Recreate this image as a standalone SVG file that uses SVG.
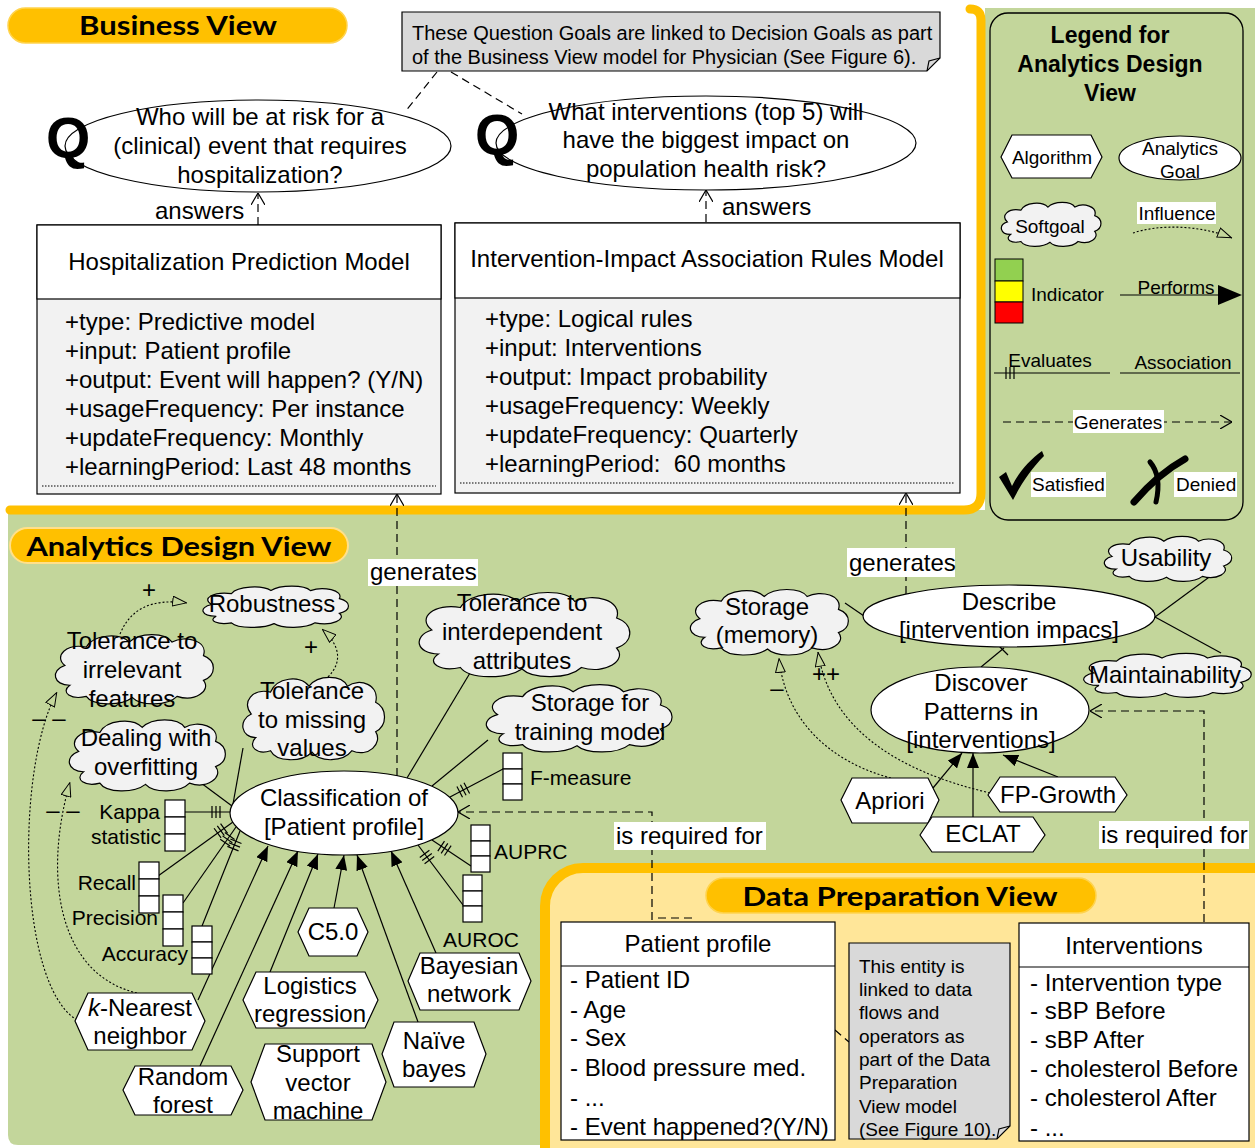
<svg xmlns="http://www.w3.org/2000/svg" width="1255" height="1148" viewBox="0 0 1255 1148">
<style>
text{font-family:"Liberation Sans",Arial,sans-serif;fill:#000}
.t24{font-size:24px}
.t21{font-size:21px}
.t19{font-size:19px}
.t20{font-size:20px}
.c{text-anchor:middle}
.e{text-anchor:end}
.ttl{font-family:Lato,"Open Sans",sans-serif;font-weight:bold;font-size:27px;text-anchor:middle}
.ln{stroke:#000;stroke-width:1.2;fill:none}
.dash{stroke:#000;stroke-width:1.2;fill:none;stroke-dasharray:8 5}
.dot{stroke:#000;stroke-width:1.1;fill:none;stroke-dasharray:2 2}
.hex{fill:#fff;stroke:#000;stroke-width:1.2}
.ell{fill:#fff;stroke:#000;stroke-width:1.2}
.ind{fill:#fff;stroke:#000;stroke-width:1.2}
.lbl{fill:#fff}
</style>
<defs>
<symbol id="cloud" viewBox="0 0 100 60" preserveAspectRatio="none">
<path vector-effect="non-scaling-stroke" d="M12,44 C2,44 0,32 9,28 C2,20 10,10 22,13 C26,3 42,1 48,9 C54,1 70,1 74,9 C82,3 96,8 93,20 C101,24 101,36 93,40 C98,48 88,58 77,53 C71,61 55,61 50,54 C43,61 26,61 22,53 C13,56 6,50 12,44 Z" fill="#f2f2f2" stroke="#000" stroke-width="1.2"/>
</symbol>
<marker id="open" viewBox="0 0 12 14" refX="12" refY="7" markerWidth="12" markerHeight="14" markerUnits="userSpaceOnUse" orient="auto"><path d="M0,0 L12,7 L0,14" fill="none" stroke="#000" stroke-width="1.2"/></marker>
<marker id="solid" viewBox="0 0 15 12" refX="15" refY="6" markerWidth="15" markerHeight="12" markerUnits="userSpaceOnUse" orient="auto"><path d="M0,0 L15,6 L0,12 Z" fill="#000"/></marker>
<marker id="tri" viewBox="0 0 15 11" refX="15" refY="5.5" markerWidth="15" markerHeight="11" markerUnits="userSpaceOnUse" orient="auto"><path d="M0.6,0.6 L14.4,5.5 L0.6,10.4 Z" fill="#c3d69b" stroke="#000" stroke-width="1"/></marker>
<marker id="ticks" viewBox="0 0 24 14" refX="0" refY="7" markerWidth="24" markerHeight="14" markerUnits="userSpaceOnUse" orient="auto"><path d="M11,1 V13 M15,1 V13 M19,1 V13" stroke="#000" stroke-width="1.2"/></marker>
</defs>

<rect x="0" y="0" width="1255" height="1148" fill="#fff"/>
<!-- panels -->
<g id="panels">
<path d="M985,8 H1255 V1145 H18 Q8,1145 8,1135 V510 H985 Z" fill="#c3d69b"/>
<path d="M10,510 H964 Q981,510 981,493 V20 Q981,9 970,9" fill="none" stroke="#ffc000" stroke-width="9" stroke-linecap="round"/>
<rect x="545" y="868" width="760" height="330" rx="38" fill="#ffe699" stroke="#ffc000" stroke-width="10"/>
<rect x="8" y="8" width="339" height="35" rx="17.5" fill="#ffc000" stroke="#ffd34d" stroke-width="1.5"/>
<text class="ttl" x="178" y="35" textLength="198" lengthAdjust="spacingAndGlyphs">Business View</text>
<rect x="10" y="528" width="338" height="35" rx="17.5" fill="#ffc000" stroke="#ffe08a" stroke-width="2"/>
<text class="ttl" x="179" y="556" textLength="305" lengthAdjust="spacingAndGlyphs">Analytics Design View</text>
<rect x="706" y="878" width="390" height="35" rx="17.5" fill="#ffc000" stroke="#ffd34d" stroke-width="1.5"/>
<text class="ttl" x="900" y="906" textLength="315" lengthAdjust="spacingAndGlyphs">Data Preparation View</text>
</g>

<!-- connectors -->
<g id="connectors">
<path class="dash" d="M437,72 L405,112"/>
<path class="dash" d="M451,72 L522,114"/>
<path class="dash" d="M258,225 V193" marker-end="url(#open)"/>
<path class="dash" d="M706,222 V190" marker-end="url(#open)"/>
<path class="dash" d="M397,776 V494" marker-end="url(#open)"/>
<path class="dash" d="M906,594 V493" marker-end="url(#open)"/>
<path class="dash" d="M652,920 V812 H458" marker-end="url(#open)"/>
<path class="dash" d="M1204,922 V711 H1090" marker-end="url(#open)"/>
<path class="dash" d="M835,1030 L849,1042"/>
<path class="dash" d="M658,918 H697" stroke-dasharray="6 4"/>
<!-- influence -->
<path class="dot" d="M120,634 C130,610 150,598 187,603" marker-end="url(#tri)"/>
<path class="dot" d="M328,677 C343,662 340,645 322,629" marker-end="url(#tri)"/>
<path class="dot" d="M137,993 C60,975 42,880 70,782" marker-end="url(#tri)"/>
<path class="dot" d="M77,1020 C18,985 15,770 57,692" marker-end="url(#tri)"/>
<path class="dot" d="M891,778 C830,762 785,720 779,658" marker-end="url(#tri)"/>
<path class="dot" d="M990,793 C900,772 830,730 818,652" marker-end="url(#tri)"/>
<!-- associations -->
<path class="ln" d="M197,780 L232,806"/>
<path class="ln" d="M243,748 L233,804"/>
<path class="ln" d="M470,673 L407,778"/>
<path class="ln" d="M488,740 L432,786"/>
<path class="ln" d="M845,603 L864,616"/>
<path class="ln" d="M1212,575 L1155,617"/>
<path class="ln" d="M1155,617 L1221,653"/>
<path class="ln" d="M981,667 L1004,648"/>
<path class="ln" d="M998,645 L1008,655"/>
<!-- evaluates -->
<path class="ln" d="M231,812 L185,812" marker-start="url(#ticks)"/>
<path class="ln" d="M233,822 L158,876" marker-start="url(#ticks)"/>
<path class="ln" d="M236,827 L183,903" marker-start="url(#ticks)"/>
<path class="ln" d="M240,831 L202,926" marker-start="url(#ticks)"/>
<path class="ln" d="M450,797 L503,769" marker-start="url(#ticks)"/>
<path class="ln" d="M432,840 L471,866" marker-start="url(#ticks)"/>
<path class="ln" d="M418,845 L463,905" marker-start="url(#ticks)"/>
<!-- performs -->
<path class="ln" d="M198,1000 L268,846" marker-end="url(#solid)"/>
<path class="ln" d="M200,1066 L298,851" marker-end="url(#solid)"/>
<path class="ln" d="M270,972 L318,854" marker-end="url(#solid)"/>
<path class="ln" d="M334,908 L344,855" marker-end="url(#solid)"/>
<path class="ln" d="M418,1022 L357,855" marker-end="url(#solid)"/>
<path class="ln" d="M436,953 L391,851" marker-end="url(#solid)"/>
<path class="ln" d="M933,788 L962,753" marker-end="url(#solid)"/>
<path class="ln" d="M973,817 V753" marker-end="url(#solid)"/>
<path class="ln" d="M1058,777 L1003,755" marker-end="url(#solid)"/>
</g>

<!-- connector labels -->
<g id="labels">
<text class="t24" x="155" y="219">answers</text>
<text class="t24" x="722" y="215">answers</text>
<rect class="lbl" x="368" y="559" width="110" height="27"/>
<text class="t24" x="370" y="580">generates</text>
<rect class="lbl" x="847" y="548" width="108" height="29"/>
<text class="t24" x="849" y="571">generates</text>
<rect class="lbl" x="614" y="822" width="152" height="28"/>
<text class="t24" x="616" y="844">is required for</text>
<rect class="lbl" x="1099" y="821" width="150" height="28"/>
<text class="t24" x="1101" y="843">is required for</text>
<text class="t24 c" x="149" y="598">+</text>
<text class="t24 c" x="311" y="655">+</text>
<text class="t24 c" x="49" y="726">– –</text>
<text class="t24 c" x="63" y="818">– –</text>
<text class="t24 c" x="777" y="696">–</text>
<text class="t24 c" x="826" y="682">++</text>
</g>

<!-- Business view -->
<g id="note-bv">
<path d="M402,12 H940 V58 L927,71 H402 Z" fill="#d9d9d9" stroke="#000" stroke-width="1.2"/>
<path d="M940,58 L929,61 L927,71" fill="none" stroke="#000" stroke-width="1.2"/>
<text class="t20" x="412" y="40">These Question Goals are linked to Decision Goals as part</text>
<text class="t20" x="412" y="64">of the Business View model for Physician (See Figure 6).</text>
</g>
<g id="q1">
<ellipse class="ell" cx="258" cy="146" rx="193" ry="46"/>
<text x="46" y="158" font-family="'Liberation Serif',serif" font-weight="bold" font-size="57">Q</text>
<text class="t24 c" x="260" y="125">Who will be at risk for a</text>
<text class="t24 c" x="260" y="154">(clinical) event that requires</text>
<text class="t24 c" x="260" y="183">hospitalization?</text>
</g>
<g id="q2">
<ellipse class="ell" cx="706" cy="143" rx="210" ry="47"/>
<text x="475" y="155" font-family="'Liberation Serif',serif" font-weight="bold" font-size="57">Q</text>
<text class="t24 c" x="706" y="120">What interventions (top 5) will</text>
<text class="t24 c" x="706" y="148">have the biggest impact on</text>
<text class="t24 c" x="706" y="177">population health risk?</text>
</g>
<g id="model-hosp">
<rect x="37" y="225" width="404" height="269" fill="#f2f2f2" stroke="#000" stroke-width="1.2"/>
<rect x="37" y="225" width="404" height="74" fill="#fff" stroke="#000" stroke-width="1.2"/>
<text class="t24 c" x="239" y="270">Hospitalization Prediction Model</text>
<text class="t24" x="65" y="330">+type: Predictive model</text>
<text class="t24" x="65" y="359">+input: Patient profile</text>
<text class="t24" x="65" y="388">+output: Event will happen? (Y/N)</text>
<text class="t24" x="65" y="417">+usageFrequency: Per instance</text>
<text class="t24" x="65" y="446">+updateFrequency: Monthly</text>
<text class="t24" x="65" y="475">+learningPeriod: Last 48 months</text>
<path d="M42,486 H436" stroke="#000" stroke-width="1" stroke-dasharray="1.5 1.5"/>
</g>
<g id="model-int">
<rect x="455" y="223" width="505" height="270" fill="#f2f2f2" stroke="#000" stroke-width="1.2"/>
<rect x="455" y="223" width="505" height="75" fill="#fff" stroke="#000" stroke-width="1.2"/>
<text class="t24 c" x="707" y="267">Intervention-Impact Association Rules Model</text>
<text class="t24" x="485" y="327">+type: Logical rules</text>
<text class="t24" x="485" y="356">+input: Interventions</text>
<text class="t24" x="485" y="385">+output: Impact probability</text>
<text class="t24" x="485" y="414">+usageFrequency: Weekly</text>
<text class="t24" x="485" y="443">+updateFrequency: Quarterly</text>
<text class="t24" x="485" y="472">+learningPeriod:&#160; 60 months</text>
<path d="M460,483 H955" stroke="#000" stroke-width="1" stroke-dasharray="1.5 1.5"/>
</g>

<!-- Legend -->
<g id="legend">
<rect x="990" y="13" width="253" height="507" rx="18" fill="#c3d69b" stroke="#000" stroke-width="1.3"/>
<text class="c" x="1110" y="43" font-size="23" font-weight="bold">Legend for</text>
<text class="c" x="1110" y="72" font-size="23" font-weight="bold">Analytics Design</text>
<text class="c" x="1110" y="101" font-size="23" font-weight="bold">View</text>
<polygon class="hex" points="1001,157 1012,135 1091,135 1102,157 1091,178 1012,178"/>
<text class="t19 c" x="1052" y="164">Algorithm</text>
<ellipse class="ell" cx="1180" cy="158" rx="61" ry="22"/>
<text class="t19 c" x="1180" y="155">Analytics</text>
<text class="t19 c" x="1180" y="178">Goal</text>
<use href="#cloud" x="998" y="200" width="104" height="47"/>
<text class="t19 c" x="1050" y="233">Softgoal</text>
<rect class="lbl" x="1137" y="202" width="79" height="22"/>
<text class="t19 c" x="1177" y="220">Influence</text>
<path class="dot" d="M1133,233 C1160,224 1200,225 1232,238" marker-end="url(#tri)"/>
<rect x="995" y="259" width="28" height="22" fill="#92d050" stroke="#000" stroke-width="1"/>
<rect x="995" y="281" width="28" height="21" fill="#ffff00" stroke="#000" stroke-width="1"/>
<rect x="995" y="302" width="28" height="21" fill="#ff0000" stroke="#000" stroke-width="1"/>
<text class="t19" x="1031" y="301">Indicator</text>
<text class="t19 c" x="1176" y="294">Performs</text>
<path class="ln" d="M1120,295 H1220"/>
<polygon points="1218,285 1242,295 1218,305" fill="#000"/>
<text class="t19 c" x="1050" y="367">Evaluates</text>
<path class="ln" d="M994,373 H1110 M1006,367 V379 M1010,367 V379 M1014,367 V379"/>
<text class="t19 c" x="1183" y="369">Association</text>
<path class="ln" d="M1120,373 H1240"/>
<path class="dash" d="M1003,422 H1232" marker-end="url(#open)"/>
<rect class="lbl" x="1073" y="410" width="91" height="23"/>
<text class="t19 c" x="1118" y="429">Generates</text>
<path d="M999,477 L1006,472 L1012,486 C1020,470 1030,460 1042,451 L1044,456 C1032,468 1021,484 1013,500 Z" fill="#000"/>
<rect class="lbl" x="1031" y="472" width="75" height="25"/>
<text class="t19" x="1032" y="491">Satisfied</text>
<path d="M1134,502 Q1158,474 1185,459" fill="none" stroke="#000" stroke-width="7" stroke-linecap="round"/>
<path d="M1150,462 Q1162,476 1156,502" fill="none" stroke="#000" stroke-width="5" stroke-linecap="round"/>
<rect class="lbl" x="1174" y="472" width="63" height="25"/>
<text class="t19" x="1176" y="491">Denied</text>
</g>

<!-- Analytics design: softgoals -->
<g id="sg-robust"><use href="#cloud" x="198" y="584" width="152" height="44"/><text class="t24 c" x="272" y="612">Robustness</text></g>
<g id="sg-irrel"><use href="#cloud" x="50" y="631" width="165" height="74"/>
<text class="t24 c" x="132" y="649">Tolerance to</text><text class="t24 c" x="132" y="678">irrelevant</text><text class="t24 c" x="132" y="707">features</text></g>
<g id="sg-overfit"><use href="#cloud" x="64" y="716" width="163" height="76"/>
<text class="t24 c" x="146" y="746">Dealing with</text><text class="t24 c" x="146" y="775">overfitting</text></g>
<g id="sg-missing"><use href="#cloud" x="238" y="673" width="148" height="88"/>
<text class="t24 c" x="312" y="699">Tolerance</text><text class="t24 c" x="312" y="728">to missing</text><text class="t24 c" x="312" y="756">values</text></g>
<g id="sg-interdep"><use href="#cloud" x="412" y="588" width="220" height="90"/>
<text class="t24 c" x="522" y="611">Tolerance to</text><text class="t24 c" x="522" y="640">interdependent</text><text class="t24 c" x="522" y="669">attributes</text></g>
<g id="sg-storage-train"><use href="#cloud" x="480" y="681" width="194" height="72"/>
<text class="t24 c" x="590" y="711">Storage for</text><text class="t24 c" x="590" y="740">training model</text></g>

<!-- indicators -->
<g id="ind-kappa"><rect class="ind" x="165" y="800" width="20" height="17"/><rect class="ind" x="165" y="817" width="20" height="17"/><rect class="ind" x="165" y="834" width="20" height="17"/>
<text class="t21 e" x="160" y="819">Kappa</text><text class="t21 e" x="161" y="844">statistic</text></g>
<g id="ind-recall"><rect class="ind" x="139" y="862" width="20" height="17"/><rect class="ind" x="139" y="879" width="20" height="17"/><rect class="ind" x="139" y="896" width="20" height="17"/>
<text class="t21 e" x="136" y="890">Recall</text></g>
<g id="ind-precision"><rect class="ind" x="163" y="895" width="20" height="17"/><rect class="ind" x="163" y="912" width="20" height="17"/><rect class="ind" x="163" y="929" width="20" height="17"/>
<text class="t21 e" x="158" y="925">Precision</text></g>
<g id="ind-accuracy"><rect class="ind" x="192" y="926" width="20" height="16"/><rect class="ind" x="192" y="942" width="20" height="16"/><rect class="ind" x="192" y="958" width="20" height="16"/>
<text class="t21 e" x="188" y="961">Accuracy</text></g>
<g id="ind-fmeasure"><rect class="ind" x="503" y="753" width="19" height="16"/><rect class="ind" x="503" y="769" width="19" height="15"/><rect class="ind" x="503" y="784" width="19" height="16"/>
<text class="t21" x="530" y="785">F-measure</text></g>
<g id="ind-auprc"><rect class="ind" x="471" y="825" width="19" height="16"/><rect class="ind" x="471" y="841" width="19" height="15"/><rect class="ind" x="471" y="856" width="19" height="16"/>
<text class="t21" x="494" y="859">AUPRC</text></g>
<g id="ind-auroc"><rect class="ind" x="463" y="875" width="19" height="16"/><rect class="ind" x="463" y="891" width="19" height="15"/><rect class="ind" x="463" y="906" width="19" height="16"/>
<text class="t21 c" x="481" y="947">AUROC</text></g>

<!-- goals -->
<g id="goal-class"><ellipse class="ell" cx="344" cy="813" rx="114" ry="42"/>
<text class="t24 c" x="344" y="806">Classification of</text><text class="t24 c" x="344" y="835">[Patient profile]</text></g>

<!-- algorithms -->
<g id="alg-knn"><polygon class="hex" points="75,1021 88,993 192,993 205,1021 192,1050 88,1050"/>
<text class="t24 c" x="140" y="1016"><tspan font-style="italic">k</tspan>-Nearest</text><text class="t24 c" x="140" y="1044">neighbor</text></g>
<g id="alg-rf"><polygon class="hex" points="123,1090 135,1066 231,1066 243,1090 231,1115 135,1115"/>
<text class="t24 c" x="183" y="1085">Random</text><text class="t24 c" x="183" y="1113">forest</text></g>
<g id="alg-lr"><polygon class="hex" points="243,1000 256,972 365,972 378,1000 365,1028 256,1028"/>
<text class="t24 c" x="310" y="994">Logistics</text><text class="t24 c" x="310" y="1022">regression</text></g>
<g id="alg-c50"><polygon class="hex" points="298,932 309,908 357,908 368,932 357,956 309,956"/>
<text class="t24 c" x="333" y="940">C5.0</text></g>
<g id="alg-svm"><polygon class="hex" points="251,1082 265,1044 372,1044 386,1082 372,1120 265,1120"/>
<text class="t24 c" x="318" y="1062">Support</text><text class="t24 c" x="318" y="1091">vector</text><text class="t24 c" x="318" y="1119">machine</text></g>
<g id="alg-nb"><polygon class="hex" points="382,1054 394,1022 474,1022 486,1054 474,1087 394,1087"/>
<text class="t24 c" x="434" y="1049">Naïve</text><text class="t24 c" x="434" y="1077">bayes</text></g>
<g id="alg-bn"><polygon class="hex" points="408,981 420,953 519,953 531,981 519,1010 420,1010"/>
<text class="t24 c" x="469" y="974">Bayesian</text><text class="t24 c" x="469" y="1002">network</text></g>

<!-- right analytics -->
<g id="sg-storage-mem"><use href="#cloud" x="685" y="586" width="165" height="70"/>
<text class="t24 c" x="767" y="615">Storage</text><text class="t24 c" x="767" y="643">(memory)</text></g>
<g id="sg-usability"><use href="#cloud" x="1100" y="534" width="133" height="48"/>
<text class="t24 c" x="1166" y="566">Usability</text></g>
<g id="sg-maint"><use href="#cloud" x="1078" y="651" width="175" height="47"/>
<text class="t24 c" x="1165" y="683">Maintainability</text></g>
<g id="goal-describe"><ellipse class="ell" cx="1009" cy="616" rx="146" ry="31"/>
<text class="t24 c" x="1009" y="610">Describe</text><text class="t24 c" x="1009" y="638">[intervention impacs]</text></g>
<g id="goal-discover"><ellipse class="ell" cx="980" cy="710" rx="109" ry="43"/>
<text class="t24 c" x="981" y="691">Discover</text><text class="t24 c" x="981" y="720">Patterns in</text><text class="t24 c" x="981" y="748">[interventions]</text></g>
<g id="alg-apriori"><polygon class="hex" points="841,800 852,778 928,778 939,800 928,823 852,823"/>
<text class="t24 c" x="890" y="809">Apriori</text></g>
<g id="alg-eclat"><polygon class="hex" points="920,835 932,817 1033,817 1045,835 1033,852 932,852"/>
<text class="t24 c" x="983" y="842">ECLAT</text></g>
<g id="alg-fp"><polygon class="hex" points="988,795 1000,777 1115,777 1127,795 1115,812 1000,812"/>
<text class="t24 c" x="1058" y="803">FP-Growth</text></g>

<!-- data preparation -->
<g id="ent-patient">
<rect x="561" y="922" width="274" height="218" fill="#fff" stroke="#000" stroke-width="1.2"/>
<path d="M561,966 H835" stroke="#000" stroke-width="1.2"/>
<text class="t24 c" x="698" y="952">Patient profile</text>
<text class="t24" x="570" y="988">- Patient ID</text>
<text class="t24" x="570" y="1018">- Age</text>
<text class="t24" x="570" y="1046">- Sex</text>
<text class="t24" x="570" y="1076">- Blood pressure med.</text>
<text class="t24" x="570" y="1106">- ...</text>
<text class="t24" x="570" y="1135">- Event happened?(Y/N)</text>
</g>
<g id="note-dp">
<path d="M849,943 H1010 V1126 L997,1139 H849 Z" fill="#d9d9d9" stroke="#000" stroke-width="1.2"/>
<path d="M1010,1126 L999,1129 L997,1139" fill="none" stroke="#000" stroke-width="1.2"/>
<text class="t19" x="859" y="973">This entity is</text>
<text class="t19" x="859" y="996">linked to data</text>
<text class="t19" x="859" y="1019">flows and</text>
<text class="t19" x="859" y="1043">operators as</text>
<text class="t19" x="859" y="1066">part of the Data</text>
<text class="t19" x="859" y="1089">Preparation</text>
<text class="t19" x="859" y="1113">View model</text>
<text class="t19" x="859" y="1136">(See Figure 10).</text>
</g>
<g id="ent-interventions">
<rect x="1019" y="923" width="230" height="218" fill="#fff" stroke="#000" stroke-width="1.2"/>
<path d="M1019,967 H1249" stroke="#000" stroke-width="1.2"/>
<text class="t24 c" x="1134" y="954">Interventions</text>
<text class="t24" x="1030" y="991">- Intervention type</text>
<text class="t24" x="1030" y="1019">- sBP Before</text>
<text class="t24" x="1030" y="1048">- sBP After</text>
<text class="t24" x="1030" y="1077">- cholesterol Before</text>
<text class="t24" x="1030" y="1106">- cholesterol After</text>
<text class="t24" x="1030" y="1136">- ...</text>
</g>
</svg>
